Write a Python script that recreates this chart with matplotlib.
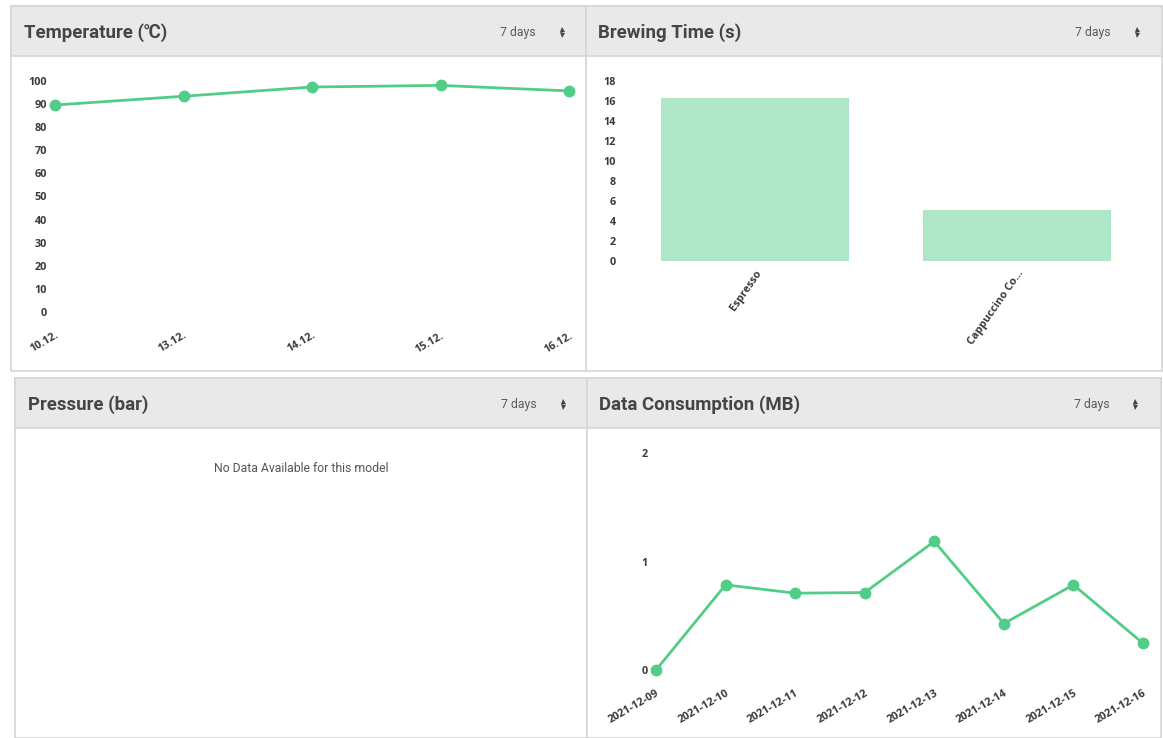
import matplotlib
matplotlib.use("Agg")
import matplotlib.pyplot as plt
from matplotlib.patches import Rectangle

# --- data ---
temp_dates = ["10.12.", "13.12.", "14.12.", "15.12.", "16.12."]
temp_values = [89.6, 93.4, 97.4, 98.1, 95.7]
temp_ticks = list(range(0, 101, 10))

brew_names = ["Espresso", "Cappuccino Co..."]
brew_values = [16.3, 5.1]
brew_ticks = list(range(0, 19, 2))

data_dates = ["2021-12-09", "2021-12-10", "2021-12-11", "2021-12-12",
              "2021-12-13", "2021-12-14", "2021-12-15", "2021-12-16"]
data_values = [0.0, 0.785, 0.708, 0.714, 1.185, 0.428, 0.785, 0.246]
data_ticks = [0, 1, 2]

W, H = 1163, 738
GREEN = "#52cd88"
BAR = "#ade7c7"
HEADER = "#e9e9e9"
EDGE = "#d6d6d6"
TITLE_C = "#454545"
TICK_C = "#3a3a3a"

fig = plt.figure(figsize=(W / 100, H / 100), dpi=100)
fig.patch.set_facecolor("white")

bg = fig.add_axes([0, 0, 1, 1])
bg.set_xlim(0, W)
bg.set_ylim(H, 0)
bg.axis("off")


def panel(x0, y0, x1, y1, header_bottom, title, title_x, days_x, icon_x, title_family=None):
    bg.add_patch(Rectangle((x0, y0), x1 - x0, y1 - y0, facecolor="white", edgecolor=EDGE, lw=1.2))
    bg.add_patch(Rectangle((x0, y0), x1 - x0, header_bottom - y0, facecolor=HEADER, edgecolor=EDGE, lw=1.2))
    ty = (y0 + header_bottom) / 2 + 1.5
    bg.text(title_x, ty, title, ha="left", va="center", fontsize=13.4, fontweight="bold",
            color=TITLE_C, family=title_family or ["Roboto", "DejaVu Sans"])
    bg.text(days_x, ty, "7 days", ha="left", va="center", fontsize=8.8, color="#5a5a5a", family="Roboto")
    # little up/down sort arrows
    bg.plot([icon_x], [ty - 3.2], marker="^", ms=3.6, color="#444", mew=0)
    bg.plot([icon_x], [ty + 2.6], marker="v", ms=3.6, color="#444", mew=0)


panel(11, 6, 586, 371, 56, "Temperature (\u2103)", 24, 500, 562, ["Roboto", "DejaVu Serif"])
panel(586, 6, 1162, 371, 56, "Brewing Time (s)", 598, 1075, 1137)
panel(15, 378, 587, 738, 428, "Pressure (bar)", 28, 501, 563)
panel(587, 378, 1161, 738, 428, "Data Consumption (MB)", 599, 1074, 1135)

bg.text(301, 468, "No Data Available for this model", ha="center", va="center",
        fontsize=8.8, color="#555555", family="Roboto")


def px_axes(left, top, right, bottom):
    ax = fig.add_axes([left / W, (H - bottom) / H, (right - left) / W, (bottom - top) / H])
    ax.patch.set_alpha(0)
    for s in ax.spines.values():
        s.set_visible(False)
    ax.tick_params(length=0, colors=TICK_C, labelsize=7.8)
    return ax


def style_labels(ax):
    for lab in ax.get_xticklabels() + ax.get_yticklabels():
        lab.set_fontweight("bold")
        lab.set_family("Open Sans")
        lab.set_color(TICK_C)


# temperature line
ax1 = px_axes(55, 81, 569, 312)
x1 = list(range(len(temp_dates)))
ax1.plot(x1, temp_values, color=GREEN, lw=2.0, marker="o", ms=7.5, clip_on=False)
ax1.set_xlim(0, len(temp_dates) - 1)
ax1.set_ylim(0, 100)
ax1.set_yticks(temp_ticks)
ax1.set_xticks(x1)
ax1.set_xticklabels(temp_dates, rotation=30, ha="right", rotation_mode="anchor")
ax1.tick_params(axis="y", pad=6)
ax1.tick_params(axis="x", pad=13)
style_labels(ax1)

# brewing time bars
ax2 = px_axes(624, 81, 1148, 261)
x2 = list(range(len(brew_names)))
ax2.bar(x2, brew_values, width=0.72, color=BAR)
ax2.set_xlim(-0.5, len(brew_names) - 0.5)
ax2.set_ylim(0, 18)
ax2.set_yticks(brew_ticks)
ax2.set_xticks(x2)
ax2.set_xticklabels(brew_names, rotation=55, ha="right", rotation_mode="anchor")
ax2.tick_params(axis="y", pad=6)
ax2.tick_params(axis="x", pad=5)
style_labels(ax2)

# data consumption line
ax3 = px_axes(656, 453, 1143, 670)
x3 = list(range(len(data_dates)))
ax3.plot(x3, data_values, color=GREEN, lw=2.0, marker="o", ms=7.5, clip_on=False)
ax3.set_xlim(0, len(data_dates) - 1)
ax3.set_ylim(0, 2)
ax3.set_yticks(data_ticks)
ax3.set_xticks(x3)
ax3.set_xticklabels(data_dates, rotation=30, ha="right", rotation_mode="anchor")
ax3.tick_params(axis="y", pad=6)
ax3.tick_params(axis="x", pad=13)
style_labels(ax3)

fig.savefig("out.png", dpi=100)
